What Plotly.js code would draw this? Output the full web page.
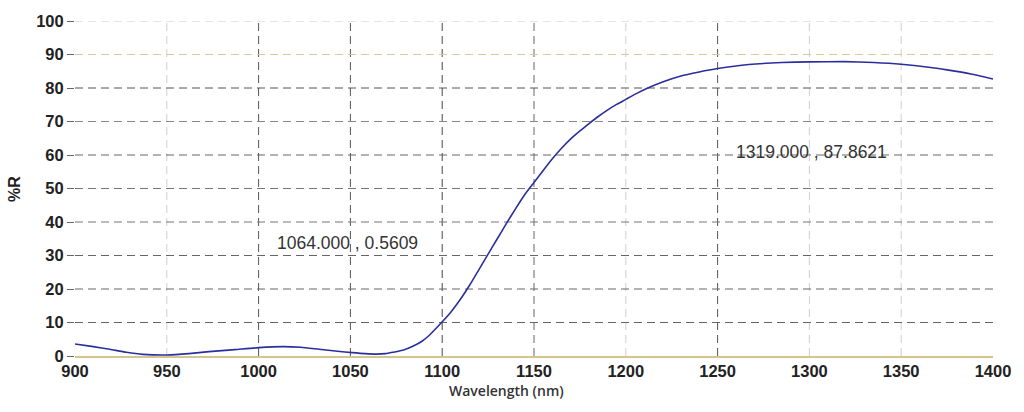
<!DOCTYPE html>
<html>
<head>
<meta charset="utf-8">
<script src="https://cdn.plot.ly/plotly-3.0.1.min.js"></script>
<style>html,body{margin:0;padding:0;background:#fff}#chart{width:1024px;height:412px}</style>
</head>
<body>
<div id="chart"></div>
<script>
// Data
const wavelength = [900, 910, 919, 928, 937, 950, 962, 973, 987, 1000, 1013, 1023, 1033, 1043, 1051, 1058, 1064, 1069, 1073, 1079, 1084, 1089, 1093, 1100, 1105, 1110, 1115, 1120, 1125, 1130, 1135, 1140, 1145, 1150, 1155, 1160, 1165, 1170, 1175, 1180, 1185, 1190, 1195, 1200, 1206, 1212, 1220, 1230, 1240, 1250, 1267, 1285, 1300, 1319, 1335, 1350, 1365, 1375, 1388, 1400];
const reflectance = [3.6, 2.8, 2.0, 1.1, 0.5, 0.3, 0.7, 1.3, 1.9, 2.5, 2.8, 2.6, 2.0, 1.4, 1.0, 0.7, 0.56, 0.7, 1.1, 1.8, 2.9, 4.4, 6.2, 10.2, 13.3, 17.0, 21.2, 25.8, 30.4, 35.0, 39.6, 44.0, 48.2, 51.8, 55.4, 58.9, 62.0, 64.8, 67.2, 69.4, 71.5, 73.4, 75.1, 76.6, 78.4, 80.0, 81.8, 83.6, 84.8, 85.8, 87.0, 87.6, 87.8, 87.86, 87.6, 87.1, 86.2, 85.4, 84.2, 82.7];

const xTicks = [900, 950, 1000, 1050, 1100, 1150, 1200, 1250, 1300, 1350, 1400];
const yTicks = [0, 10, 20, 30, 40, 50, 60, 70, 80, 90, 100];

const markers = [
  {x: 1064, y: 0.5609, label: "1064.000 , 0.5609"},
  {x: 1319, y: 87.8621, label: "1319.000 , 87.8621"}
];

// gridline styles (per tick)
const vGrid = [950, 1000, 1050, 1100, 1150, 1200, 1250, 1300, 1350];
const vGridColor = ['#cfcfcf', '#555', '#555', '#444', '#666', '#cfcfcf', '#555', '#cfcfcf', '#cfcfcf'];
const hGrid = [10, 20, 30, 40, 50, 60, 70, 80, 90, 100];
const hGridColor = ['#666', '#666', '#666', '#777', '#777', '#666', '#888', '#555', '#d6cc9a', '#cccccc'];

const shapes = [];
vGrid.forEach((v, i) => shapes.push({type: 'line', xref: 'x', yref: 'y', x0: v, x1: v, y0: 0, y1: 100,
  line: {color: vGridColor[i], width: 1, dash: '8px,5px'}, layer: 'below'}));
hGrid.forEach((v, i) => shapes.push({type: 'line', xref: 'x', yref: 'y', x0: 900, x1: 1400, y0: v, y1: v,
  line: {color: hGridColor[i], width: 1, dash: '8px,5px'}, layer: 'below'}));

const annPos = [{x: 1009, y: 33.6}, {x: 1259, y: 61.0}];
const annotations = markers.map((m, i) => ({
  x: annPos[i].x, y: annPos[i].y, xref: 'x', yref: 'y', text: m.label, showarrow: false,
  xanchor: 'left', yanchor: 'middle', font: {family: 'Liberation Sans', size: 17.5, color: '#333'}
}));
annotations.push({xref: 'paper', yref: 'paper', x: 0.4695, y: -0.07, yanchor: 'top', xanchor: 'center',
  text: 'Wavelength (nm)', showarrow: false, font: {family: 'Open Sans', size: 14, color: '#333', weight: 600}});
annotations.push({xref: 'paper', yref: 'paper', x: -0.066, y: 0.5, xanchor: 'center', yanchor: 'middle', textangle: -90,
  text: '%R', showarrow: false, font: {family: 'Liberation Sans', size: 16, color: '#222', weight: 700}});

const trace = {
  x: wavelength, y: reflectance, type: 'scatter', mode: 'lines',
  line: {color: '#2b2f9e', width: 1.6, shape: 'spline', smoothing: 0.5}, hoverinfo: 'x+y'
};

const tickFont = {family: 'Liberation Sans', size: 16.5, color: '#222', weight: 700};

const layout = {
  width: 1024, height: 412,
  margin: {l: 75, r: 31, t: 21, b: 56},
  paper_bgcolor: '#fff', plot_bgcolor: '#fff',
  showlegend: false,
  xaxis: {range: [900, 1400], tickvals: xTicks, ticktext: xTicks.map(String), showgrid: false, zeroline: false,
    showline: true, linecolor: '#d6c48e', linewidth: 1.5, ticks: '', ticklen: 0, tickfont: tickFont},
  yaxis: {range: [0, 100], tickvals: yTicks, ticktext: yTicks.map(String), showgrid: false, zeroline: false,
    showline: false, ticks: 'outside', ticklen: 7, tickcolor: '#666', tickwidth: 1, tickfont: tickFont},
  shapes: shapes,
  annotations: annotations
};

Plotly.newPlot('chart', [trace], layout, {displayModeBar: false, staticPlot: true});
</script>
</body>
</html>
